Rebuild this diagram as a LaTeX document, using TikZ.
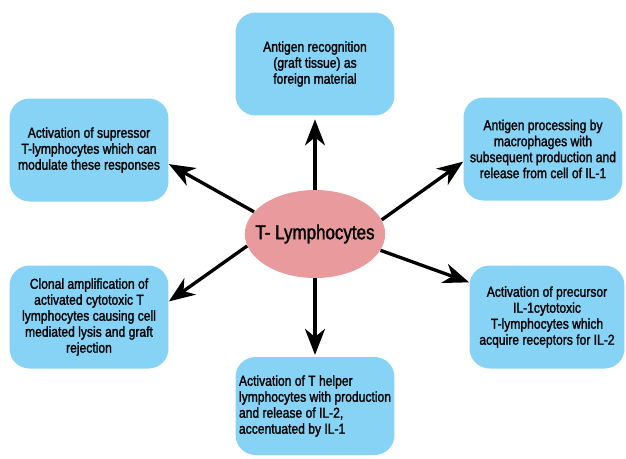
\documentclass[tikz,border=0pt]{standalone}
\usepackage{fontspec}
\setmainfont[FakeStretch=0.84,FakeBold=1.5]{Liberation Sans}
\usetikzlibrary{arrows.meta,shapes.geometric}
\definecolor{boxblue}{RGB}{135,211,245}
\definecolor{cellpink}{RGB}{232,154,156}
\begin{document}
\begin{tikzpicture}[x=0.02cm,y=-0.02cm,
    stepbox/.style={fill=boxblue, rounded corners=0.4cm, align=center,
      minimum width=3.18cm, minimum height=2.06cm, inner sep=1pt,
      font=\fontsize{8.2}{9.1}\selectfont},
    arr/.style={-{Stealth[length=0.52cm,width=0.4cm,inset=0.16cm]}, line width=1.9pt}]
    \useasboundingbox (0,0) rectangle (626,458);

    % T-lymphocytes in the middle
    \node[ellipse, fill=cellpink, minimum width=2.62cm, minimum height=1.76cm,
      inner xsep=-0.2cm, inner ysep=0pt, font=\fontsize{11.5}{14}\selectfont] (ly) at (315,234) {T- Lymphocytes};

    % Boxes round it
    \node[stepbox] (top) at (315,64) {Antigen recognition\\(graft tissue) as\\foreign material};
    \node[stepbox] (ul) at (89,150) {Activation of supressor\\T-lymphocytes which can\\modulate these responses};
    \node[stepbox] (ur) at (543,149) {Antigen processing by\\macrophages with\\subsequent production and\\release from cell of IL-1};
    \node[stepbox] (ll) at (89,317) {Clonal amplification of\\activated cytotoxic T\\lymphocytes causing cell\\mediated lysis and graft\\rejection};
    \node[stepbox, minimum width=3.1cm] (lr) at (547,317) {Activation of precursor\\IL-1cytotoxic\\T-lymphocytes which\\acquire receptors for IL-2};
    \node[stepbox, align=left, minimum height=1.96cm] (bot) at (315,406) {Activation of T helper\\lymphocytes with production\\and release of IL-2,\\accentuated by IL-1};

    % Arrows
    \draw[arr, shorten >=2pt] (ly.north) -- (top.south);
    \draw[arr] (ly.160) -- (ul.-10);
    \draw[arr] (ly.12) -- (ur.189);
    \draw[arr] (ly.190) -- (ll.11);
    \draw[arr] (ly.-14) -- (lr.156);
    \draw[arr, shorten >=1pt] (ly.south) -- (bot.north);

\end{tikzpicture}
\end{document}
